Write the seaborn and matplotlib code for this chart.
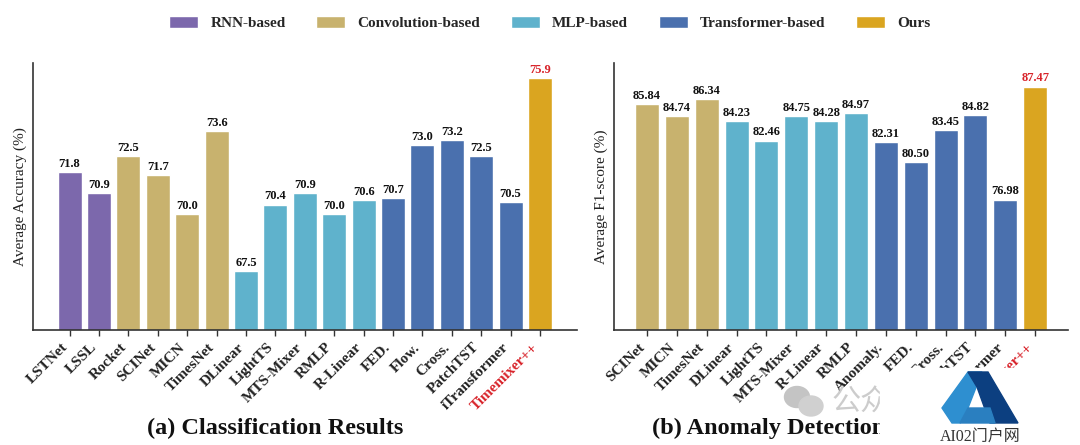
import pandas as pd
import seaborn as sns
import matplotlib.pyplot as plt
from matplotlib.patches import Patch, Polygon, Rectangle, Ellipse
from matplotlib.transforms import ScaledTranslation

# Classification panel
cls_models = ["LSTNet", "LSSL", "Rocket", "SCINet", "MICN", "TimesNet", "DLinear", "LightTS", "MTS-Mixer",
              "RMLP", "R-Linear", "FED.", "Flow.", "Cross.", "PatchTST", "iTransformer", "Timemixer++"]
cls_values = [71.8, 70.9, 72.5, 71.7, 70.0, 73.6, 67.5, 70.4, 70.9, 70.0, 70.6, 70.7, 73.0, 73.2, 72.5, 70.5, 75.9]
cls_groups = ["RNN-based"] * 2 + ["Convolution-based"] * 4 + ["MLP-based"] * 5 + ["Transformer-based"] * 5 + ["Ours"]

# Anomaly detection panel
ano_models = ["SCINet", "MICN", "TimesNet", "DLinear", "LightTS", "MTS-Mixer", "R-Linear", "RMLP",
              "Anomaly.", "FED.", "Cross.", "PatchTST", "iTransformer", "Timemixer++"]
ano_values = [85.84, 84.74, 86.34, 84.23, 82.46, 84.75, 84.28, 84.97, 82.31, 80.50, 83.45, 84.82, 76.98, 87.47]
ano_groups = ["Convolution-based"] * 3 + ["MLP-based"] * 5 + ["Transformer-based"] * 5 + ["Ours"]

group_names = ["RNN-based", "Convolution-based", "MLP-based", "Transformer-based", "Ours"]
group_colors = ["#7C68AC", "#C8B26E", "#5FB2CC", "#4A70AE", "#DAA520"]
palette = dict(zip(group_names, group_colors))

sns.set_theme(style="white")
plt.rcParams['font.family'] = ['Liberation Serif', 'Noto Sans CJK SC', 'DejaVu Sans']

W, H = 1080, 445
fig = plt.figure(figsize=(W / 100, H / 100), dpi=100)


# position helper, pixels measured from the top left of the reference
def px_axes(x0, y0, x1, y1):
    return fig.add_axes([x0 / W, 1 - y1 / H, (x1 - x0) / W, (y1 - y0) / H])


def fx(x, y):
    return x / W, 1 - y / H


def draw_panel(ax, models, values, groups, ylabel, fmt, width, xlim, ylim):
    df = pd.DataFrame({"Model": models, "Value": values, "Group": groups})
    sns.barplot(data=df, x="Model", y="Value", hue="Group", palette=palette, dodge=False,
                width=width, legend=False, saturation=1, ax=ax)
    ax.set_xlim(*xlim)
    ax.set_ylim(*ylim)
    ax.set_yticks([])
    ax.set_xlabel("")
    ax.set_ylabel(ylabel, fontsize=11, color="#222222", labelpad=4)
    sns.despine(ax=ax)
    for side in ["left", "bottom"]:
        ax.spines[side].set_color("#333333")
        ax.spines[side].set_linewidth(1.2)
    ax.tick_params(axis="x", bottom=True, length=4, width=1, color="#333333", pad=7)
    ax.set_xticks(range(len(models)))
    ax.set_xticklabels(models, rotation=45, ha="right", va="center", rotation_mode="anchor",
                       fontsize=11, fontweight="bold", color="#222222")
    # labels end a little left of their ticks in the reference
    shift = ScaledTranslation(-3 / 72, 0, fig.dpi_scale_trans)
    for lab in ax.get_xticklabels():
        lab.set_transform(lab.get_transform() + shift)
    ax.get_xticklabels()[-1].set_color("#D8232A")
    for cont in ax.containers:
        is_ours = cont is ax.containers[-1]
        ax.bar_label(cont, fmt=fmt, padding=1.5, fontsize=9, fontweight="bold",
                     color="#D8232A" if is_ours else "#111111")


ax1 = px_axes(33, 63, 577, 330)
draw_panel(ax1, cls_models, cls_values, cls_groups, "Average Accuracy (%)", "%.1f", 0.82,
           (-1.245, 17.26), (64.96, 76.54))

ax2 = px_axes(614, 63, 1068, 330)
draw_panel(ax2, ano_models, ano_values, ano_groups, "Average F1-score (%)", "%.2f", 0.8,
           (-1.105, 14.1), (64.86, 89.66))

# legend
handles = [Patch(facecolor=c, label=n) for n, c in zip(group_names, group_colors)]
fig.legend(handles=handles, loc="center", bbox_to_anchor=fx(550, 23), ncol=5, frameon=False,
           prop={"weight": "bold", "size": 11}, handlelength=1.9, handleheight=0.8,
           columnspacing=2.0, handletextpad=0.8)

# panel captions
fig.text(*fx(275, 428), "(a) Classification Results", ha="center", va="center",
         fontsize=17.5, fontweight="bold", color="#111111")
fig.text(*fx(652, 428), "(b) Anomaly Detection", ha="left", va="center",
         fontsize=17.5, fontweight="bold", color="#111111")

# overlay stamp that sits over the lower right corner of the reference
tr = fig.transFigure
fig.add_artist(Rectangle(fx(880, 445), 200 / W, 57 / H, transform=tr, color="white", zorder=5))
fig.add_artist(Rectangle(fx(905, 390), 175 / W, 22 / H, transform=tr, color="white", zorder=5))
fig.add_artist(Ellipse(fx(797, 397), 25 / W, 21 / H, transform=tr, color="#C4C4C4", zorder=6))
fig.add_artist(Ellipse(fx(811, 406), 24 / W, 20 / H, transform=tr, color="#D0D0D0", zorder=6))
fig.text(*fx(832, 403), "公众", ha="left", va="center", fontsize=21, color="#CCCCCC",
         family=["Noto Sans CJK SC"], zorder=6)
fig.add_artist(Rectangle(fx(880, 445), 200 / W, 57 / H, transform=tr, color="white", zorder=6.5))

left_a = [fx(942, 408), fx(968, 372), fx(982, 372), fx(968, 408), fx(960, 423), fx(952, 423)]
right_a = [fx(968, 372), fx(988, 372), fx(1018, 423), fx(990, 423), fx(977, 387)]
mid_a = [fx(968, 408), fx(990, 408), fx(995, 423), fx(960, 423)]
fig.add_artist(Polygon(left_a, closed=True, transform=tr, color="#2E8FD0", zorder=7))
fig.add_artist(Polygon(right_a, closed=True, transform=tr, color="#0C3F80", zorder=7))
fig.add_artist(Polygon(mid_a, closed=True, transform=tr, color="#2A7FC0", zorder=7))
fig.text(*fx(980, 437), "AI02门户网", ha="center", va="center", fontsize=11.5, color="#333333", zorder=8)

fig.savefig("out.png", dpi=100)
